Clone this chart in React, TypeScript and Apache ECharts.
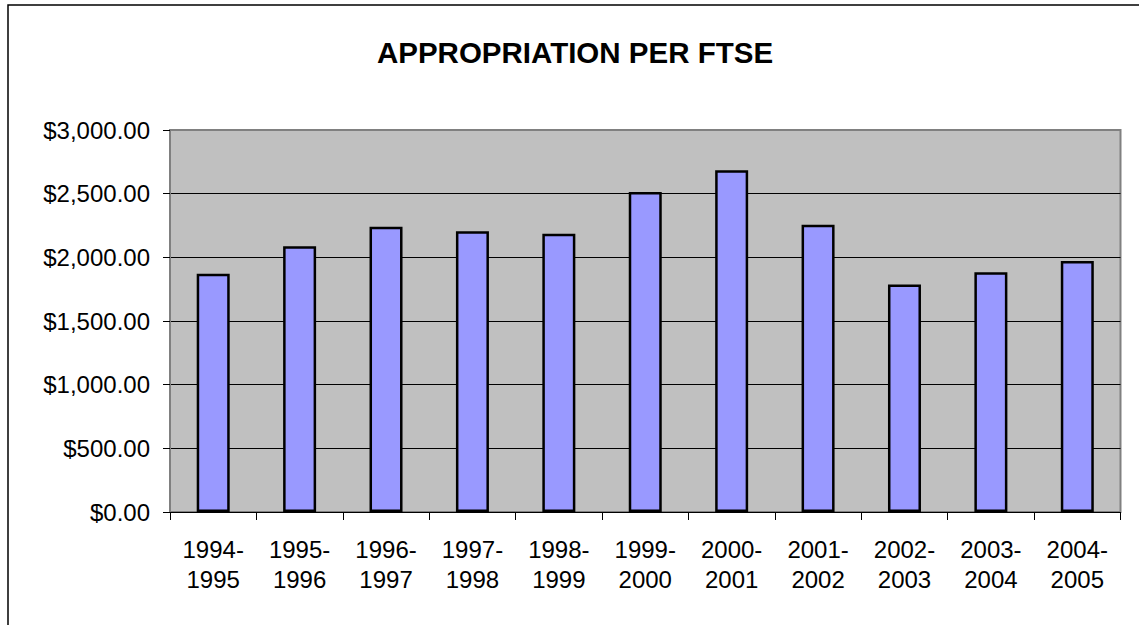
import React, { useEffect, useRef } from 'react';
import * as echarts from 'echarts';

const chartTitle = 'APPROPRIATION PER FTSE';
const categories = [
  '1994-\n1995', '1995-\n1996', '1996-\n1997', '1997-\n1998', '1998-\n1999',
  '1999-\n2000', '2000-\n2001', '2001-\n2002', '2002-\n2003', '2003-\n2004', '2004-\n2005',
];
const values = [1872, 2088, 2240, 2204, 2185, 2514, 2684, 2256, 1786, 1883, 1972];
const yMin = 0;
const yMax = 3000;
const yInterval = 500;

const FONT = "'Liberation Sans', Arial, sans-serif";

function fmtMoney(v: number): string {
  const s = v.toFixed(2);
  const [i, d] = s.split('.');
  return '$' + i.replace(/\B(?=(\d{3})+(?!\d))/g, ',') + '.' + d;
}

export default function App() {
  const ref = useRef<HTMLDivElement>(null);
  useEffect(() => {
    if (!ref.current) return;
    const chart = echarts.init(ref.current, undefined, { renderer: 'svg' });
    const splitColors = ['#000', '#000', '#000', '#000', '#000', '#000', 'rgba(0,0,0,0)'];
    chart.setOption({
      animation: false,
      backgroundColor: '#ffffff',
      textStyle: { fontFamily: FONT },
      grid: {
        left: 170,
        right: 18.5,
        top: 130,
        bottom: 113,
        show: true,
        backgroundColor: '#C0C0C0',
        borderColor: '#808080',
        borderWidth: 2,
      },
      xAxis: {
        type: 'category',
        data: categories,
        axisLine: { show: true, lineStyle: { color: '#000', width: 1 } },
        axisTick: { show: true, length: 8, lineStyle: { color: '#000', width: 1 } },
        axisLabel: {
          color: '#000',
          fontSize: 24,
          lineHeight: 30,
          margin: 22,
          interval: 0,
          fontFamily: FONT,
        },
      },
      yAxis: {
        type: 'value',
        min: yMin,
        max: yMax,
        interval: yInterval,
        axisLine: { show: true, lineStyle: { color: '#808080', width: 2 } },
        axisTick: { show: true, length: 7, lineStyle: { color: '#000', width: 1 } },
        axisLabel: {
          color: '#000',
          fontSize: 24,
          margin: 20,
          fontFamily: FONT,
          formatter: (v: number) => fmtMoney(v),
        },
        splitLine: { show: true, lineStyle: { color: splitColors, width: 1 } },
      },
      series: [
        {
          type: 'bar',
          data: values,
          barWidth: 33,
          itemStyle: { color: '#9999FF', borderColor: '#000', borderWidth: 2.5 },
        },
      ],
      graphic: [
        {
          type: 'rect',
          silent: true,
          shape: { x: 8, y: 5, width: 1200, height: 700 },
          style: { fill: 'none', stroke: '#000', lineWidth: 1.5 },
        },
        {
          type: 'text',
          x: 575,
          y: 52,
          style: {
            text: chartTitle,
            fontSize: 29.5,
            fontWeight: 'bold',
            fontFamily: FONT,
            fill: '#000',
            textAlign: 'center',
            textVerticalAlign: 'middle',
            align: 'center',
            verticalAlign: 'middle',
          },
        },
      ],
    });
    return () => chart.dispose();
  }, []);
  return (
    <div
      ref={ref}
      style={{ position: 'fixed', left: 0, top: 0, width: 1139, height: 625 }}
    />
  );
}
